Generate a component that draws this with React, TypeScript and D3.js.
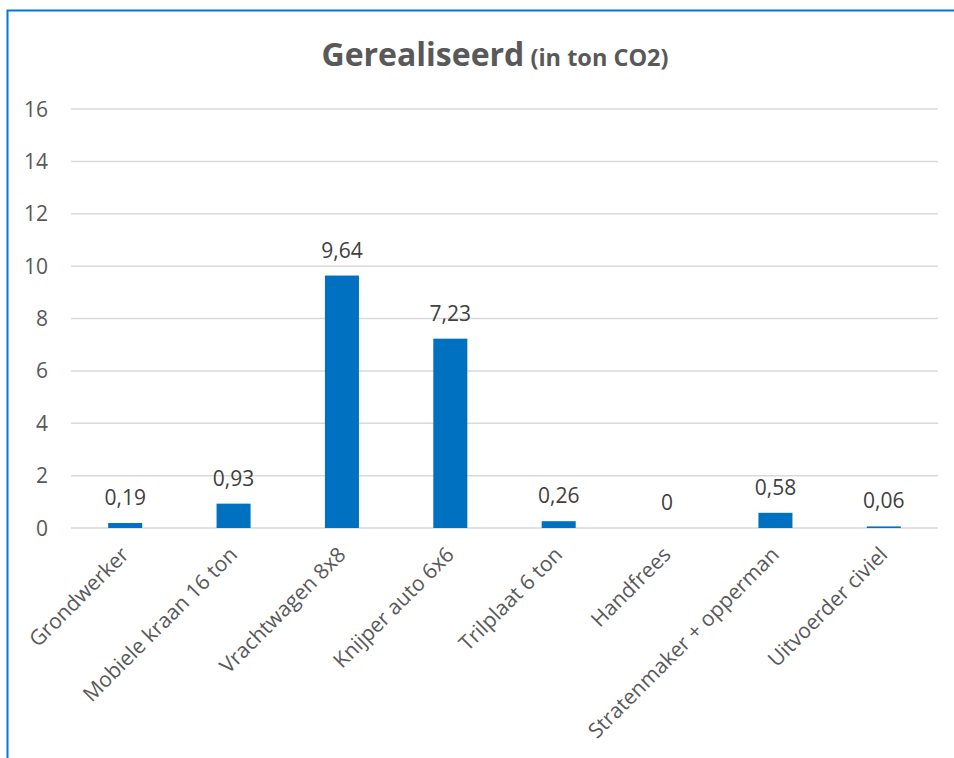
import { useEffect, useRef } from "react";
import { scaleBand, scaleLinear, select } from "d3";

const categories = [
  "Grondwerker",
  "Mobiele kraan 16 ton",
  "Vrachtwagen 8x8",
  "Knijper auto 6x6",
  "Trilplaat 6 ton",
  "Handfrees",
  "Stratenmaker + opperman",
  "Uitvoerder civiel",
];
const values = [0.19, 0.93, 9.64, 7.23, 0.26, 0, 0.58, 0.06];
const valueLabels = ["0,19", "0,93", "9,64", "7,23", "0,26", "0", "0,58", "0,06"];
const yTicks = [0, 2, 4, 6, 8, 10, 12, 14, 16];

const W = 954;
const H = 758;
const FONT = "'Open Sans', sans-serif";

export default function App() {
  const svgRef = useRef<SVGSVGElement | null>(null);

  useEffect(() => {
    const svg = select(svgRef.current);
    svg.selectAll("*").remove();

    const left = 71;
    const right = 938;
    const top = 109;
    const bottom = 528;

    const x = scaleBand<string>()
      .domain(categories)
      .range([left, right])
      .paddingInner(0.686)
      .paddingOuter(0.343);
    const y = scaleLinear().domain([0, 16]).range([bottom, top]);

    svg.append("rect").attr("width", W).attr("height", H).attr("fill", "#fff");

    // chart border (cropped at right/bottom)
    svg
      .append("path")
      .attr("d", `M7.5,${H} V10.5 H${W}`)
      .attr("fill", "none")
      .attr("stroke", "#0078d4")
      .attr("stroke-width", 2);

    // title
    const title = svg
      .append("text")
      .attr("x", 495)
      .attr("y", 66)
      .attr("text-anchor", "middle")
      .attr("font-family", FONT)
      .attr("font-weight", "bold")
      .attr("fill", "#595959");
    title.append("tspan").attr("font-size", 32).text("Gerealiseerd");
    title.append("tspan").attr("font-size", 23.5).text(" (in ton CO2)");

    // gridlines
    svg
      .append("g")
      .selectAll("line")
      .data(yTicks)
      .enter()
      .append("line")
      .attr("x1", left)
      .attr("x2", right)
      .attr("y1", (d) => y(d))
      .attr("y2", (d) => y(d))
      .attr("stroke", "#d9d9d9")
      .attr("stroke-width", 1.5);

    // y tick labels
    svg
      .append("g")
      .selectAll("text")
      .data(yTicks)
      .enter()
      .append("text")
      .attr("x", 48)
      .attr("y", (d) => y(d))
      .attr("dy", "0.36em")
      .attr("text-anchor", "end")
      .attr("font-family", FONT)
      .attr("font-size", 21)
      .attr("fill", "#595959")
      .text((d) => String(d));

    // bars
    svg
      .append("g")
      .selectAll("rect")
      .data(values)
      .enter()
      .append("rect")
      .attr("x", (_, i) => x(categories[i]) || 0)
      .attr("y", (d) => y(d))
      .attr("width", x.bandwidth())
      .attr("height", (d) => bottom - y(d))
      .attr("fill", "#0070c0");

    // value labels
    svg
      .append("g")
      .selectAll("text")
      .data(values)
      .enter()
      .append("text")
      .attr("x", (_, i) => (x(categories[i]) || 0) + x.bandwidth() / 2)
      .attr("y", (d) => y(d) - 18)
      .attr("text-anchor", "middle")
      .attr("font-family", FONT)
      .attr("font-size", 21)
      .attr("fill", "#404040")
      .text((_, i) => valueLabels[i]);

    // category labels, rotated
    svg
      .append("g")
      .selectAll("text")
      .data(categories)
      .enter()
      .append("text")
      .attr("transform", (d) => {
        const cx = (x(d) || 0) + x.bandwidth() / 2;
        return `translate(${cx + 5},${556}) rotate(-45)`;
      })
      .attr("text-anchor", "end")
      .attr("font-family", FONT)
      .attr("font-size", 21)
      .attr("fill", "#595959")
      .text((d) => d);
  }, []);

  return (
    <div style={{ position: "absolute", left: 0, top: 0 }}>
      <svg ref={svgRef} width={W} height={H} style={{ display: "block" }}></svg>
    </div>
  );
}
